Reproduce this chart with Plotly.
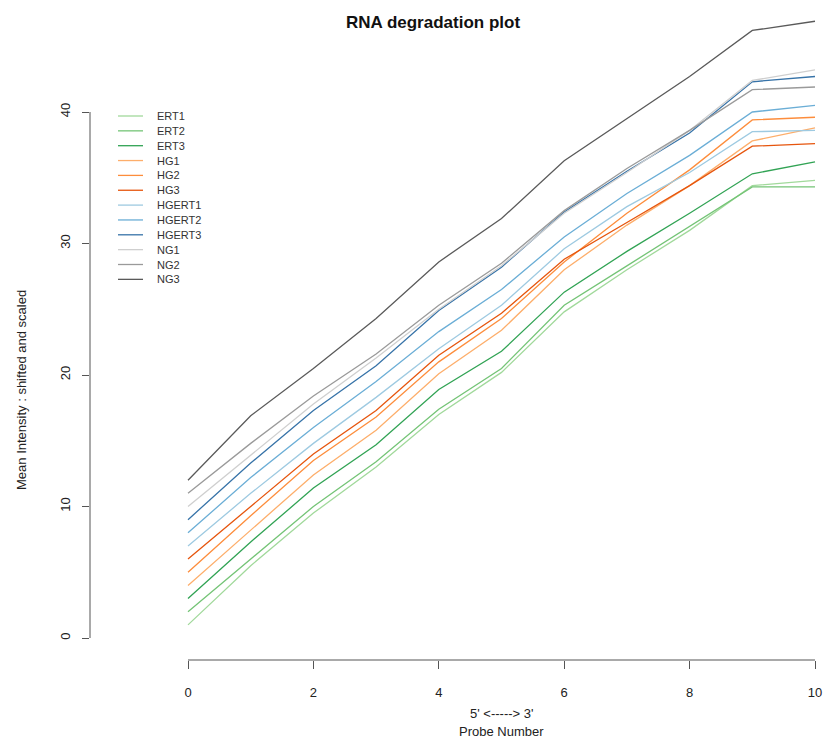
import plotly.graph_objects as go

probe = [0, 1, 2, 3, 4, 5, 6, 7, 8, 9, 10]

names = ["ERT1", "ERT2", "ERT3", "HG1", "HG2", "HG3",
         "HGERT1", "HGERT2", "HGERT3", "NG1", "NG2", "NG3"]

ERT1 = [1, 5.5, 9.5, 13.0, 17.0, 20.2, 24.8, 28.0, 31.0, 34.4, 34.8]
ERT2 = [2, 6.0, 10.0, 13.4, 17.4, 20.5, 25.3, 28.3, 31.3, 34.3, 34.3]
ERT3 = [3, 7.3, 11.4, 14.7, 18.9, 21.8, 26.3, 29.4, 32.3, 35.3, 36.2]
HG1 = [4, 8.2, 12.4, 15.8, 20.1, 23.4, 28.0, 31.4, 34.4, 37.8, 38.8]
HG2 = [5, 9.3, 13.5, 16.8, 21.0, 24.3, 28.6, 32.3, 35.6, 39.4, 39.6]
HG3 = [6, 10.0, 14.0, 17.3, 21.5, 24.7, 28.8, 31.6, 34.4, 37.4, 37.6]
HGERT1 = [7, 11.0, 14.8, 18.3, 22.0, 25.3, 29.6, 32.8, 35.4, 38.5, 38.6]
HGERT2 = [8, 12.2, 16.0, 19.5, 23.3, 26.5, 30.5, 33.8, 36.7, 40.0, 40.5]
HGERT3 = [9, 13.3, 17.3, 20.7, 24.9, 28.2, 32.4, 35.5, 38.4, 42.3, 42.7]
NG1 = [10, 13.9, 17.8, 21.3, 25.0, 28.3, 32.3, 35.4, 38.6, 42.4, 43.2]
NG2 = [11, 14.8, 18.4, 21.6, 25.3, 28.5, 32.5, 35.7, 38.6, 41.7, 41.9]
NG3 = [12, 16.9, 20.5, 24.3, 28.6, 31.9, 36.3, 39.5, 42.7, 46.2, 46.9]

series = [ERT1, ERT2, ERT3, HG1, HG2, HG3, HGERT1, HGERT2, HGERT3, NG1, NG2, NG3]

colors = ["#a1d99b", "#74c476", "#31a354",
          "#fdae6b", "#fd8d3c", "#e6550d",
          "#9ecae1", "#6baed6", "#3773a8",
          "#cfcfcf", "#9a9a9a", "#5a5a5a"]

x_ticks = [0, 2, 4, 6, 8, 10]
y_ticks = [0, 10, 20, 30, 40]

title_text = "RNA degradation plot"
xlab1 = "5' <-----> 3'"
xlab2 = "Probe Number"
ylab = "Mean Intensity : shifted and scaled"

W, H = 823, 740
L, R, T, B = 90, 0, 10, 80
pw, ph = W - L - R, H - T - B

fig = go.Figure()
for name, vals, col in zip(names, series, colors):
    fig.add_trace(go.Scatter(x=probe, y=vals, mode="lines", name=name,
                             line=dict(color=col, width=1.3), showlegend=False))

font_main = "Liberation Sans, Arial, Helvetica, sans-serif"

# axis lines spanning tick range (R style)
shapes = [
    dict(type="line", xref="x", yref="paper", x0=min(x_ticks), x1=max(x_ticks),
         y0=0, y1=0, line=dict(color="#555", width=1)),
    dict(type="line", xref="paper", yref="y", x0=0, x1=0,
         y0=min(y_ticks), y1=max(y_ticks), line=dict(color="#555", width=1)),
]

annotations = []
# manual legend
leg_top_px = 116
leg_step = 14.85
for i, (name, col) in enumerate(zip(names, colors)):
    py = leg_top_px + i * leg_step
    yp = (H - B - py) / ph
    shapes.append(dict(type="line", xref="paper", yref="paper",
                       x0=(118 - L) / pw, x1=(143 - L) / pw, y0=yp, y1=yp,
                       line=dict(color=col, width=1.3)))
    annotations.append(dict(xref="paper", yref="paper", x=(155 - L) / pw, y=yp,
                            text=name, showarrow=False, xanchor="left", yanchor="middle",
                            font=dict(size=11, color="#333", family=font_main)))

# axis titles
annotations.append(dict(xref="x", yref="paper", x=5, y=(H - B - 713) / ph, text=xlab1,
                        showarrow=False, xanchor="center", yanchor="middle",
                        font=dict(size=13, color="#222", family=font_main)))
annotations.append(dict(xref="x", yref="paper", x=5, y=(H - B - 731) / ph, text=xlab2,
                        showarrow=False, xanchor="center", yanchor="middle",
                        font=dict(size=13, color="#222", family=font_main)))
annotations.append(dict(xref="paper", yref="paper", x=(22 - L) / pw, y=(H - B - 390) / ph,
                        text=ylab, textangle=-90, showarrow=False,
                        xanchor="center", yanchor="middle",
                        font=dict(size=13, color="#222", family=font_main)))

x_per = 62.7
y_per = 13.15
x0_px = 188
y0_px = 638

fig.update_layout(
    width=W, height=H,
    margin=dict(l=L, r=R, t=T, b=B),
    paper_bgcolor="white", plot_bgcolor="white",
    title=dict(text="<b>" + title_text + "</b>", x=433 / W, xref="container",
               xanchor="center", y=1 - 22 / H, yanchor="middle",
               font=dict(size=17, color="#111", family=font_main)),
    xaxis=dict(range=[(L - x0_px) / x_per, (W - R - x0_px) / x_per],
               tickvals=x_ticks, ticktext=[str(v) for v in x_ticks],
               showgrid=False, zeroline=False, showline=False,
               ticks="outside", ticklen=8, tickcolor="#555", ticklabelstandoff=12,
               tickfont=dict(size=13, color="#222", family=font_main)),
    yaxis=dict(range=[(y0_px - (H - B)) / y_per, (y0_px - T) / y_per],
               tickvals=y_ticks, ticktext=[str(v) for v in y_ticks],
               showgrid=False, zeroline=False, showline=False,
               ticks="outside", ticklen=7, tickcolor="#555", tickangle=-90,
               ticklabelstandoff=7,
               tickfont=dict(size=13, color="#222", family=font_main)),
    shapes=shapes,
    annotations=annotations,
)

fig.write_html("out.html")
